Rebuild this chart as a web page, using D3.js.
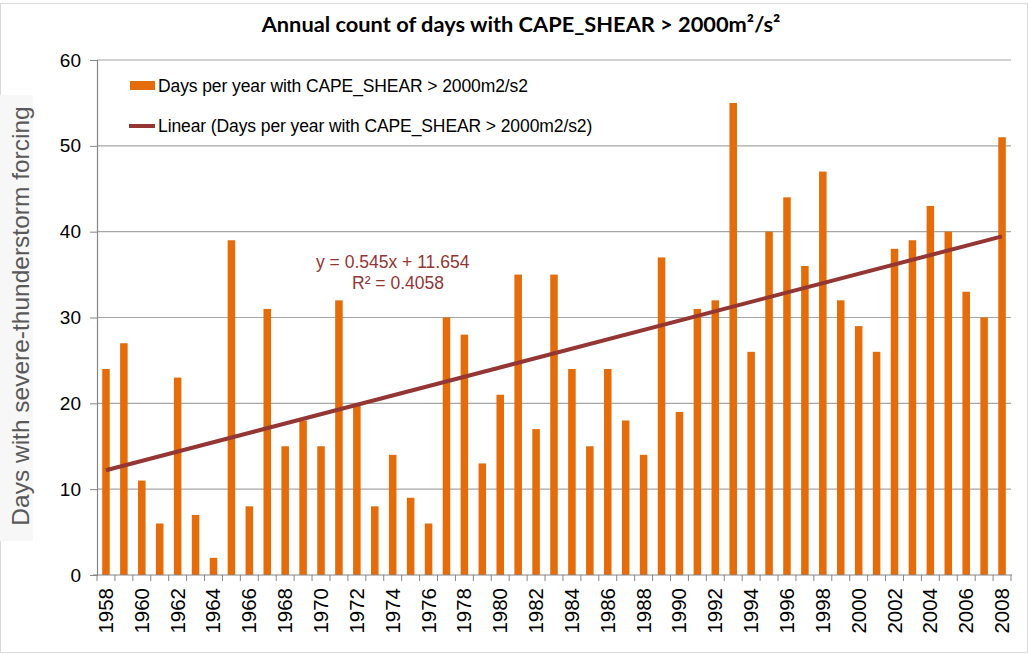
<!DOCTYPE html>
<meta charset="utf-8">
<script src="https://d3js.org/d3.v7.min.js"></script>
<style>
  body { margin: 0; background: #fff; }
  svg { display: block; }
</style>
<div id="my_dataviz"></div>
<script>
  // data
  var years = d3.range(1958, 2009);
  var days = [24, 27, 11, 6, 23, 7, 2, 39, 8, 31,
              15, 18, 15, 32, 20, 8, 14, 9, 6, 30,
              28, 13, 21, 35, 17, 35, 24, 15, 24, 18,
              14, 37, 19, 31, 32, 55, 26, 40, 44, 36,
              47, 32, 29, 26, 38, 39, 43, 40, 33, 30, 51];
  var yTicks = [0, 10, 20, 30, 40, 50, 60];
  var trendSlope = 0.545, trendIntercept = 11.654;
  var trendLabels = ["y = 0.545x + 11.654", "R\u00b2 = 0.4058"];
  var seriesName = "Days per year with CAPE_SHEAR > 2000m2/s2";
  var trendName = "Linear (Days per year with CAPE_SHEAR > 2000m2/s2)";

  var W = 1028, H = 654;
  var plotLeft = 97, plotRight = 1011, plotTop = 60, plotBottom = 575;
  var barColor = "#e46c0a", trendColor = "#943634", gridColor = "#a6a6a6";

  var svg = d3.select("#my_dataviz").append("svg")
    .attr("width", W).attr("height", H)
    .style("font-family", "'Liberation Sans', Arial, sans-serif");

  // outer frame
  svg.append("rect")
    .attr("x", 0.5).attr("y", 3.5).attr("width", W - 1).attr("height", H - 5)
    .attr("fill", "#fff").attr("stroke", "#d9d9d9");

  // light box behind the y title
  svg.append("rect")
    .attr("x", 0).attr("y", 95).attr("width", 33).attr("height", 446)
    .attr("fill", "#f7f7f7");

  var x = d3.scaleBand().domain(years).range([plotLeft, plotRight]).padding(0);
  var y = d3.scaleLinear().domain([0, 60]).range([plotBottom, plotTop]);

  // grid lines
  svg.append("g").selectAll("line")
    .data(yTicks.filter(function (d) { return d > 0; }))
    .join("line")
    .attr("x1", plotLeft).attr("x2", plotRight)
    .attr("y1", function (d) { return y(d); })
    .attr("y2", function (d) { return y(d); })
    .attr("stroke", gridColor).attr("stroke-width", 1.2);

  // y axis
  var yAxis = svg.append("g")
    .attr("transform", "translate(" + plotLeft + ",0)")
    .call(d3.axisLeft(y).tickValues(yTicks).tickSize(7).tickPadding(9));
  yAxis.select(".domain").attr("stroke", "#868686").attr("stroke-width", 1.2);
  yAxis.selectAll(".tick line").attr("stroke", "#868686");
  yAxis.selectAll("text").attr("font-size", 19).attr("fill", "#000")
    .style("font-family", "'Liberation Sans', Arial, sans-serif");

  // bars
  var barW = x.bandwidth() * 0.42;
  svg.append("g").selectAll("rect")
    .data(years)
    .join("rect")
    .attr("x", function (d) { return x(d) + (x.bandwidth() - barW) / 2; })
    .attr("width", barW)
    .attr("y", function (d, i) { return y(days[i]); })
    .attr("height", function (d, i) { return plotBottom - y(days[i]); })
    .attr("fill", barColor);

  // x axis line and ticks at slot boundaries
  var xg = svg.append("g");
  xg.append("line")
    .attr("x1", plotLeft - 4).attr("x2", plotRight + 1)
    .attr("y1", plotBottom).attr("y2", plotBottom)
    .attr("stroke", "#868686").attr("stroke-width", 1.2);
  xg.selectAll("line.tk")
    .data(years.concat([2009]))
    .join("line").attr("class", "tk")
    .attr("x1", function (d) { return d === 2009 ? plotRight : x(d); })
    .attr("x2", function (d) { return d === 2009 ? plotRight : x(d); })
    .attr("y1", plotBottom).attr("y2", plotBottom + 6)
    .attr("stroke", "#868686");

  // x labels, every second year, rotated
  xg.selectAll("text")
    .data(years.filter(function (d) { return d % 2 === 0; }))
    .join("text")
    .attr("transform", function (d) {
      return "translate(" + (x(d) + x.bandwidth() / 2 + 7) + "," + (plotBottom + 13) + ") rotate(-90)";
    })
    .attr("text-anchor", "end")
    .attr("font-size", 20.5)
    .text(function (d) { return d; });

  // linear trend line across first and last bar centres
  var trendLine = d3.line()
    .x(function (d) { return x(d) + x.bandwidth() / 2; })
    .y(function (d) { return y(trendSlope * (d - years[0] + 1) + trendIntercept); });
  svg.append("path")
    .datum([years[0], years[years.length - 1]])
    .attr("d", trendLine)
    .attr("fill", "none")
    .attr("stroke", trendColor)
    .attr("stroke-width", 4);

  // equation
  svg.append("text").attr("x", 316).attr("y", 268)
    .attr("font-size", 17.5).attr("fill", trendColor).text(trendLabels[0]);
  svg.append("text").attr("x", 352).attr("y", 289)
    .attr("font-size", 17.5).attr("fill", trendColor).text(trendLabels[1]);

  // legend
  var legend = svg.append("g");
  legend.append("rect")
    .attr("x", 130).attr("y", 81).attr("width", 25).attr("height", 9)
    .attr("fill", barColor);
  legend.append("text").attr("x", 158).attr("y", 92)
    .attr("font-size", 17.5).attr("letter-spacing", -0.1).text(seriesName);
  legend.append("line")
    .attr("x1", 129).attr("x2", 155).attr("y1", 126).attr("y2", 126)
    .attr("stroke", trendColor).attr("stroke-width", 4);
  legend.append("text").attr("x", 158).attr("y", 132)
    .attr("font-size", 17.5).attr("letter-spacing", -0.1).text(trendName);

  // title
  svg.append("text")
    .attr("x", 521).attr("y", 32)
    .attr("text-anchor", "middle")
    .attr("font-size", 21.8).attr("font-weight", "bold")
    .style("font-family", "Lato, 'Open Sans', sans-serif")
    .text("Annual count of days with CAPE_SHEAR > 2000m\u00b2/s\u00b2");

  // y title
  svg.append("text")
    .attr("transform", "translate(29,316) rotate(-90)")
    .attr("text-anchor", "middle")
    .attr("font-size", 24.5).attr("fill", "#595959")
    .text("Days with severe-thunderstorm forcing");
</script>
